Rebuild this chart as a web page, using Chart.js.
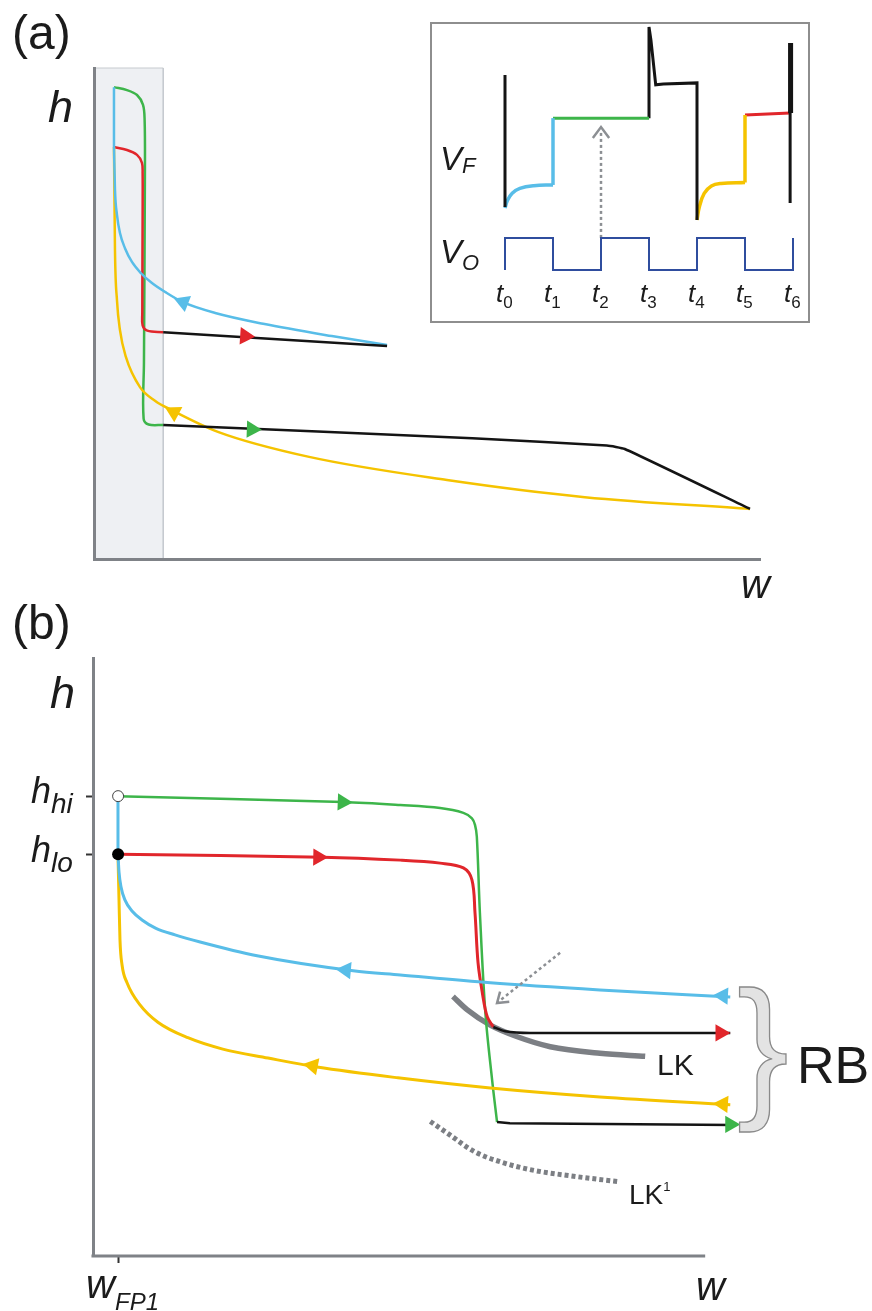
<!DOCTYPE html>
<html>
<head>
<meta charset="utf-8">
<script src="https://cdn.jsdelivr.net/npm/chart.js@4.4.0/dist/chart.umd.min.js"></script>
<style>
  body { margin: 0; background: #fff; width: 872px; height: 1311px; position: relative; overflow: hidden;
         font-family: "Liberation Sans", Arial, sans-serif; color: #1b1b1b; }
  canvas { position: absolute; }
  .lbl { position: absolute; line-height: 1; white-space: nowrap; z-index: 3; }
  .it { font-style: italic; }
  .sub { position: relative; }
  #inset { position: absolute; left: 430px; top: 22px; width: 376px; height: 297px;
           border: 2px solid #8e8e8e; background: #fff; z-index: 2; }
</style>
</head>
<body>
<canvas id="chartA" width="872" height="600" style="left:0;top:0;width:872px;height:600px"></canvas>
<div id="inset"><canvas id="chartInset" width="376" height="297" style="left:0;top:0;width:376px;height:297px"></canvas></div>
<canvas id="chartB" width="872" height="711" style="left:0;top:600px;width:872px;height:711px"></canvas>

<div class="lbl" style="left:12px;top:9px;font-size:48px">(a)</div>
<div class="lbl it" style="left:48px;top:84px;font-size:45px">h</div>
<div class="lbl it" style="left:741px;top:564px;font-size:40px">w</div>

<div class="lbl it" style="left:440px;top:142px;font-size:33px">V<span class="sub" style="font-size:22px;top:3px">F</span></div>
<div class="lbl it" style="left:440px;top:235px;font-size:33px">V<span class="sub" style="font-size:22px;top:7px">O</span></div>

<div class="lbl" style="left:12px;top:599px;font-size:48px">(b)</div>
<div class="lbl it" style="left:50px;top:670px;font-size:45px">h</div>
<div class="lbl it" id="lblHi" style="left:31px;top:773px;font-size:36px">h<span class="sub" style="font-size:28px;top:10px">hi</span></div>
<div class="lbl it" id="lblLo" style="left:31px;top:832px;font-size:36px">h<span class="sub" style="font-size:28px;top:10px">lo</span></div>
<div class="lbl it" id="lblFP" style="left:87px;top:1264px;font-size:40px">w<span class="sub" style="font-size:24px;top:12px">FP1</span></div>
<div class="lbl it" style="left:696px;top:1266px;font-size:40px">w</div>
<div class="lbl" style="left:657px;top:1050px;font-size:30px">LK</div>
<div class="lbl" style="left:629px;top:1181px;font-size:28px">LK<span class="sub" style="font-size:13px;top:-13px">1</span></div>
<div class="lbl" style="left:737px;top:969px;font-size:155px;color:#e3e3e3;-webkit-text-stroke:1.3px #8a8a8a">}</div>
<div class="lbl" style="left:797px;top:1039px;font-size:52px">RB</div>

<script>
// ---- panel (a): phase plane, w 0-100, h 0-100 ----
const aShade = [[0, 100], [10.4, 100], [10.4, 0]];
const aGreen = [[3.0, 96.1], [4.95, 95.5], [6.46, 94.5], [7.36, 92.5], [7.6, 89.4], [7.65, 80], [7.5, 40], [7.45, 28.6], [8.2, 27.4], [10.4, 27.3]];
const aRed = [[3.0, 83.9], [4.95, 83.3], [6.46, 82.3], [7.2, 80.7], [7.3, 78.6], [7.3, 70], [7.25, 50], [7.3, 47.6], [8.0, 46.5], [10.4, 46.2]];
const aBlueStem = [[3.0, 96.1], [3.0, 83.9]];
const aBlue = [[3.0, 83.9], [3.15, 75.2], [3.45, 70.1], [3.9, 66.4], [4.65, 63.3], [5.7, 60.5], [7.06, 58.2], [8.7, 56.2], [10.66, 54.4], [13.36, 52.3], [18.2, 50.1], [25.4, 47.9], [35.7, 45.4], [44.0, 43.6]];
const aYellow = [[3.0, 83.9], [3.15, 62.9], [3.45, 52.7], [3.9, 46.6], [4.8, 41.1], [6.9, 35.0], [9.2, 32.2], [11.7, 30.3], [18.6, 25.9], [32.3, 20.8], [53.0, 16.1], [73.7, 12.6], [98.5, 10.2]];
const aBlackLow = [[10.4, 27.3], [56.8, 24.6], [77.0, 23.1], [79.7, 22.4], [98.5, 10.2]];
const aBlackHigh = [[10.4, 46.2], [44.0, 43.4]];
// arrow heads: [w, h, direction in degrees]
const aArrows = { green: [23.7, 26.4, 92], red: [22.7, 45.4, 94], blue: [13.4, 52.3, -69], yellow: [12.0, 29.9, -62] };

// ---- inset: V_F and V_O against time t0..t6 ----
const insetTimes = [0, 1, 2, 3, 4, 5, 6];
const vO = [[0, 0], [0, 13.2], [1, 13.2], [1, 0], [2, 0], [2, 13.2], [3, 13.2], [3, 0], [4, 0], [4, 13.2], [5, 13.2], [5, 0], [6, 0], [6, 13.2]];
const vFBlack1 = [[0, 80.2], [0, 25.9]];
const vFBlueCurve = [[0, 25.5], [0.05, 28.6], [0.15, 31.6], [0.31, 33.6], [0.6, 34.7], [1, 35]];
const vFBlueStep = [[1, 35], [1, 62.5]];
const vFGreen = [[1, 62.5], [3, 62.5]];
const vFBlack2 = [[3, 62.5], [3, 100], [3.04, 94.7], [3.14, 76.2], [3.3, 76.5], [4, 77], [4, 20.6]];
const vFYellowCurve = [[4, 20.6], [4.05, 26], [4.15, 31.5], [4.3, 34.6], [4.5, 35.6], [5, 36]];
const vFYellowStep = [[5, 36], [5, 63.8]];
const vFRed = [[5, 63.8], [5.94, 64.6]];
const vFBlack3 = [[5.94, 93.4], [5.94, 27.6]];
const vFSpike = [[5.95, 93.4], [5.95, 64.6]];
const insetCue = [[2, 13.2], [2, 57.5]];
const insetCueHead = [[1.83, 54.3], [2, 58.8], [2.17, 54.3]];

// ---- panel (b): w 0-115 shown, axis drawn to 100; h 0-100 ----
const wFP1 = 4.1;
const hHi = 76.9;
const hLo = 67.2;
const bAxisW = [[-0.25, 0], [100, 0]];
const bGreen = [[4.08, 76.9], [40.85, 75.9], [50.2, 75.4], [56.7, 74.9], [60.5, 74.1], [61.9, 73.2], [62.4, 72.1], [62.7, 70.1], [63.2, 57.4], [64.1, 40.6], [65.2, 29.4], [66.0, 22.4]];
const bRed = [[4.08, 67.2], [37.6, 66.7], [50.2, 66.2], [56.7, 65.7], [60.5, 64.9], [61.9, 62.9], [62.4, 57.4], [62.9, 49.0], [63.6, 44.0], [64.4, 40.0], [65.4, 38.3]];
const bBlueStem = [[4.08, 76.9], [4.08, 67.2]];
const bBlue = [[4.08, 67.2], [4.25, 64.2], [4.58, 61.7], [5.23, 59.5], [6.37, 57.7], [8.01, 56.2], [10.29, 54.8], [13.4, 53.7], [17.5, 52.5], [26.8, 50.2], [42.5, 47.7], [50.2, 47.0], [64.9, 45.7], [82.8, 44.5], [104.1, 43.3]];
const bYellow = [[4.08, 67.2], [4.25, 59.5], [4.41, 52.8], [4.74, 48.7], [5.56, 45.7], [7.68, 42.0], [10.6, 39.1], [15.5, 36.5], [21.2, 34.6], [28.6, 33.1], [36.6, 31.6], [49.8, 29.8], [64.9, 28.1], [82.8, 26.6], [104.1, 25.3]];
const bBlackLow = [[66.0, 22.4], [68.1, 22.2], [104.5, 21.9]];
const bBlackHigh = [[65.4, 38.3], [67.3, 37.6], [71.4, 37.3], [104.1, 37.3]];
const bLK = [[58.8, 43.4], [61.1, 41.2], [64.9, 38.6], [69.2, 36.7], [74.7, 35.0], [82.8, 33.9], [90.2, 33.4]];
const bLK1 = [[55.1, 22.5], [57.8, 20.6], [62.4, 17.4], [67.0, 15.6], [71.6, 14.4], [78.8, 13.3], [86.1, 12.4]];
const bCue = [[76.3, 50.7], [66.2, 42.5]];
const bCueHead = [[68.0, 42.5], [66.0, 42.3], [66.5, 44.2]];
const bArrows = {
  greenMid: [40.8, 75.9, 92], redMid: [36.8, 66.7, 91], blueMid: [41.3, 47.8, -85], yellowMid: [35.9, 31.8, -79],
  greenEnd: [104.1, 22.0, 90], redEnd: [102.5, 37.3, 90], blueEnd: [102.9, 43.5, -87], yellowEnd: [102.9, 25.4, -86]
};

const GREEN = "#3db54a", RED = "#e1262b", BLUE = "#58bde8", YELLOW = "#f5c300", BLACK = "#141414", GREY = "#7f8287";

Chart.defaults.animation = false;
Chart.defaults.font.family = "'Liberation Sans', Arial, sans-serif";

function toXY(pairs) {
  return pairs.map(([x, y]) => ({ x: x, y: y }));
}

function curve(pairs, color, width, extra) {
  return Object.assign({
    data: toXY(pairs), borderColor: color, borderWidth: width, pointRadius: 0,
    tension: 0.35, fill: false, clip: false, order: 5
  }, extra || {});
}

// smooth curve through points whose w keeps growing
function smooth(pairs, color, width, extra) {
  return curve(pairs, color, width, Object.assign({ cubicInterpolationMode: "monotone" }, extra || {}));
}

function arrow(item, color, radius) {
  return {
    data: toXY([[item[0], item[1]]]), showLine: false, pointStyle: "triangle", pointRotation: item[2],
    pointRadius: radius || 10, pointBackgroundColor: color, pointBorderWidth: 0, clip: false, order: 1
  };
}

function axis(extra) {
  return Object.assign({
    type: "linear", display: true, bounds: "data",
    afterDataLimits: (s) => { s.min = 0; s.max = 100; },
    ticks: { display: false },
    grid: { display: false },
    border: { display: true, color: GREY, width: 3, z: 1 }
  }, extra || {});
}

function baseOptions(padding, scales) {
  return {
    responsive: false, maintainAspectRatio: false, events: [],
    layout: { padding: padding, autoPadding: false },
    plugins: { legend: { display: false }, tooltip: { enabled: false } },
    scales: scales
  };
}

// panel (a)
new Chart(document.getElementById("chartA"), {
  type: "line",
  data: {
    datasets: [
      arrow(aArrows.green, GREEN, 10),
      arrow(aArrows.red, RED, 10),
      arrow(aArrows.blue, BLUE, 10),
      arrow(aArrows.yellow, YELLOW, 10),
      curve(aBlackLow, BLACK, 2.5, { tension: 0.15, order: 3 }),
      curve(aBlackHigh, BLACK, 2.5, { tension: 0, order: 3 }),
      curve(aBlueStem, BLUE, 2.5, { tension: 0, order: 4 }),
      smooth(aBlue, BLUE, 2.5, { order: 4 }),
      smooth(aYellow, YELLOW, 2.5, { order: 5 }),
      curve(aRed, RED, 2.5, { order: 5 }),
      curve(aGreen, GREEN, 2.5, { order: 6 }),
      curve(aShade, "#c6cacf", 1, { tension: 0, fill: "origin", backgroundColor: "#eef0f3", order: 10 })
    ]
  },
  options: baseOptions({ left: 94, right: 112, top: 68, bottom: 41 }, {
    x: axis({ afterFit: (s) => { s.height = 0; } }),
    y: axis({ afterFit: (s) => { s.width = 0; } })
  })
});

// inset
const insetChart = new Chart(document.getElementById("chartInset"), {
  type: "line",
  data: {
    datasets: [
      curve(vO, "#2f4d9e", 2, { tension: 0 }),
      curve(vFBlack1, BLACK, 3, { tension: 0 }),
      curve(vFBlueCurve, BLUE, 3.5, { tension: 0.4 }),
      curve(vFBlueStep, BLUE, 3.5, { tension: 0 }),
      curve(vFGreen, GREEN, 3, { tension: 0 }),
      curve(vFBlack2, BLACK, 3, { tension: 0 }),
      curve(vFYellowCurve, YELLOW, 3.5, { tension: 0.4 }),
      curve(vFYellowStep, YELLOW, 3.5, { tension: 0 }),
      curve(vFRed, RED, 3, { tension: 0, order: 6 }),
      curve(vFBlack3, BLACK, 3, { tension: 0, order: 4 }),
      curve(vFSpike, BLACK, 5, { tension: 0, order: 4 }),
      curve(insetCue, "#8c8f93", 2.5, { tension: 0, borderDash: [3, 3] }),
      curve(insetCueHead, "#8c8f93", 2.5, { tension: 0 })
    ]
  },
  options: baseOptions({ left: 73, right: 15, top: 3, bottom: 51 }, {
    x: axis({ display: false, afterDataLimits: (s) => { s.min = 0; s.max = 6; } }),
    y: axis({ display: false })
  })
});

// time labels t0..t6 under the inset, placed with the inset's own x scale
insetTimes.forEach((t) => {
  const el = document.createElement("div");
  el.className = "lbl it";
  el.style.fontSize = "26px";
  el.style.left = 432 + insetChart.scales.x.getPixelForValue(t) - 9 + "px";
  el.style.top = "280px";
  el.innerHTML = 't<span class="sub" style="font-size:17px;top:6px;font-style:normal">' + t + "</span>";
  document.body.appendChild(el);
});

// panel (b)
const chartB = new Chart(document.getElementById("chartB"), {
  type: "line",
  data: {
    datasets: [
      { data: toXY([[wFP1, hHi]]), showLine: false, pointRadius: 5.5, pointBackgroundColor: "#fff",
        pointBorderColor: "#444", pointBorderWidth: 1, clip: false, order: 0 },
      { data: toXY([[wFP1, hLo]]), showLine: false, pointRadius: 6, pointBackgroundColor: "#000",
        pointBorderWidth: 0, clip: false, order: 0 },
      arrow(bArrows.greenMid, GREEN),
      arrow(bArrows.redMid, RED),
      arrow(bArrows.blueMid, BLUE),
      arrow(bArrows.yellowMid, YELLOW),
      arrow(bArrows.greenEnd, GREEN),
      arrow(bArrows.redEnd, RED),
      arrow(bArrows.blueEnd, BLUE),
      arrow(bArrows.yellowEnd, YELLOW),
      curve(bAxisW, GREY, 3, { tension: 0, order: 2 }),
      curve(bBlackLow, BLACK, 2.5, { tension: 0, order: 3 }),
      curve(bBlackHigh, BLACK, 2.5, { tension: 0.2, order: 3 }),
      curve(bBlueStem, BLUE, 3, { tension: 0, order: 4 }),
      smooth(bBlue, BLUE, 3, { order: 4 }),
      smooth(bYellow, YELLOW, 3, { order: 4 }),
      curve(bRed, RED, 3, { order: 5 }),
      curve(bGreen, GREEN, 2.5, { order: 6 }),
      curve(bCue, "#8c8f93", 2.5, { tension: 0, borderDash: [3, 3], order: 2 }),
      curve(bCueHead, "#8c8f93", 2.5, { tension: 0, order: 2 }),
      smooth(bLK, "#7c7f84", 5.5, { order: 8 }),
      smooth(bLK1, "#7c7f84", 5, { borderDash: [4, 3], order: 8 })
    ]
  },
  options: baseOptions({ left: 93, right: 75, top: 58, bottom: 55 }, {
    x: axis({
      afterFit: (s) => { s.height = 0; },
      afterDataLimits: (s) => { s.min = 0; s.max = 115; },
      afterBuildTicks: (s) => { s.ticks = [{ value: wFP1 }]; },
      border: { display: false },
      grid: { display: true, drawOnChartArea: false, drawTicks: true, tickLength: 7, tickWidth: 2, color: "#333", tickColor: "#333" }
    }),
    y: axis({
      afterFit: (s) => { s.width = 0; },
      afterBuildTicks: (s) => { s.ticks = [{ value: hLo }, { value: hHi }]; },
      grid: { display: true, drawOnChartArea: false, drawTicks: true, tickLength: 7, tickWidth: 2, color: "#333", tickColor: "#333" }
    })
  })
});

// tick labels h_hi, h_lo and w_FP1 follow the scale positions
document.getElementById("lblHi").style.top = 600 + chartB.scales.y.getPixelForValue(hHi) - 23 + "px";
document.getElementById("lblLo").style.top = 600 + chartB.scales.y.getPixelForValue(hLo) - 22 + "px";
document.getElementById("lblFP").style.left = chartB.scales.x.getPixelForValue(wFP1) - 32 + "px";
</script>
</body>
</html>
